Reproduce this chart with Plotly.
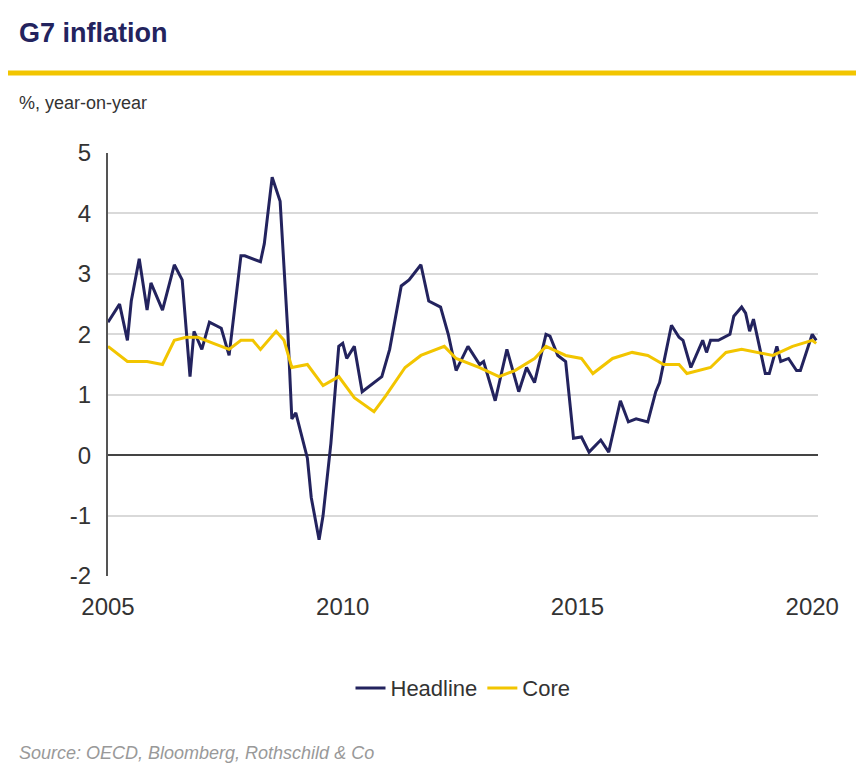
import pandas as pd
import plotly.graph_objects as go

# months since Jan 2005
headline_m = [0, 3, 5, 6, 8, 10, 11, 14, 17, 19, 21, 22, 24, 26, 29, 31, 34, 35, 39, 40, 42, 44, 46, 47, 48,
              51, 52, 54, 55, 57, 59, 60, 61, 63, 65, 66, 70, 72, 75, 77, 80, 82, 85, 87, 89, 92, 95, 96, 99,
              102, 105, 107, 109, 112, 113, 115, 117, 119, 121, 123, 126, 128, 131, 133, 135, 138, 140, 141,
              144, 146, 147, 149, 152, 153, 154, 156, 159, 160, 162, 163, 164, 165, 168, 169, 171, 172, 174,
              176, 177, 180, 181]
headline = [2.2, 2.5, 1.9, 2.55, 3.25, 2.4, 2.85, 2.4, 3.15, 2.9, 1.3, 2.05, 1.75, 2.2, 2.1, 1.65, 3.3, 3.3,
            3.2, 3.5, 4.6, 4.2, 2.0, 0.6, 0.7, -0.05, -0.7, -1.4, -1.0, 0.2, 1.8, 1.85, 1.6, 1.8, 1.05, 1.1,
            1.3, 1.75, 2.8, 2.9, 3.15, 2.55, 2.45, 2.0, 1.4, 1.8, 1.5, 1.55, 0.9, 1.75, 1.05, 1.45, 1.2, 2.0,
            1.97, 1.65, 1.55, 0.28, 0.3, 0.05, 0.25, 0.05, 0.9, 0.55, 0.6, 0.55, 1.05, 1.2, 2.15, 1.95, 1.9,
            1.45, 1.9, 1.7, 1.9, 1.9, 2.0, 2.3, 2.45, 2.35, 2.05, 2.25, 1.35, 1.35, 1.8, 1.55, 1.6, 1.4, 1.4,
            2.0, 1.9]

core_m = [0, 3, 5, 8, 10, 14, 17, 20, 23, 27, 31, 34, 37, 39, 43, 45, 47, 51, 55, 59, 63, 68, 71, 76, 80,
          86, 89, 95, 100, 104, 109, 112, 117, 121, 124, 129, 134, 138, 142, 146, 148, 154, 158, 162, 166,
          170, 175, 180, 181]
core = [1.8, 1.65, 1.55, 1.55, 1.55, 1.5, 1.9, 1.95, 1.95, 1.85, 1.75, 1.9, 1.9, 1.75, 2.05, 1.9, 1.45, 1.5,
        1.15, 1.3, 0.95, 0.72, 0.98, 1.45, 1.65, 1.8, 1.6, 1.45, 1.3, 1.4, 1.6, 1.8, 1.65, 1.6, 1.35, 1.6,
        1.7, 1.65, 1.5, 1.5, 1.35, 1.45, 1.7, 1.75, 1.7, 1.65, 1.8, 1.9, 1.85]

y_ticks = [-2, -1, 0, 1, 2, 3, 4, 5]
x_years = [2005, 2010, 2015, 2020]

start = pd.Timestamp("2005-01-01")
to_dates = lambda ms: [start + pd.DateOffset(months=m) for m in ms]

NAVY = "#23235e"
GOLD = "#f2c500"

fig = go.Figure()
fig.add_trace(go.Scatter(x=to_dates(headline_m), y=headline, mode="lines", name="Headline",
                         line=dict(color=NAVY, width=3)))
fig.add_trace(go.Scatter(x=to_dates(core_m), y=core, mode="lines", name="Core",
                         line=dict(color=GOLD, width=3)))

fig.update_layout(
    width=864, height=770,
    margin=dict(l=100, r=54, t=145, b=202),
    paper_bgcolor="white", plot_bgcolor="white",
    font=dict(family="Liberation Sans, Arial", color="#333333"),
    showlegend=True,
    legend=dict(orientation="h", x=0.5, xanchor="center", y=-0.265, yanchor="middle",
                font=dict(size=22, color="#333333")),
    xaxis=dict(type="date", range=["2005-01-01", "2020-02-15"],
               tickvals=[f"{y}-01-01" for y in x_years], ticktext=[str(y) for y in x_years],
               showgrid=False, showline=False, zeroline=False, ticks="", ticklabelstandoff=14,
               tickfont=dict(size=24, color="#333333")),
    yaxis=dict(range=[-2, 5], tickvals=y_ticks, ticktext=[str(v) for v in y_ticks],
               showgrid=True, gridcolor="#d9d9d9", gridwidth=1.5,
               zeroline=True, zerolinecolor="#444444", zerolinewidth=2,
               showline=True, linecolor="#555555", linewidth=2, ticks="", ticklabelstandoff=10,
               tickfont=dict(size=24, color="#333333")),
)

fig.add_shape(type="line", xref="paper", yref="paper", x0=-0.141, x1=1.063, y0=1.189, y1=1.189,
              line=dict(color=GOLD, width=5))
fig.add_annotation(text="<b>G7 inflation</b>", xref="paper", yref="paper", x=-0.128, y=1.284,
                   xanchor="left", yanchor="middle", showarrow=False,
                   font=dict(size=27, color=NAVY))
fig.add_annotation(text="%, year-on-year", xref="paper", yref="paper", x=-0.128, y=1.118,
                   xanchor="left", yanchor="middle", showarrow=False,
                   font=dict(size=18, color="#333333"))
fig.add_annotation(text="<i>Source: OECD, Bloomberg, Rothschild &amp; Co</i>", xref="paper", yref="paper",
                   x=-0.128, y=-0.418, xanchor="left", yanchor="middle", showarrow=False,
                   font=dict(size=18, color="#999999"))

fig.write_html("out.html")
